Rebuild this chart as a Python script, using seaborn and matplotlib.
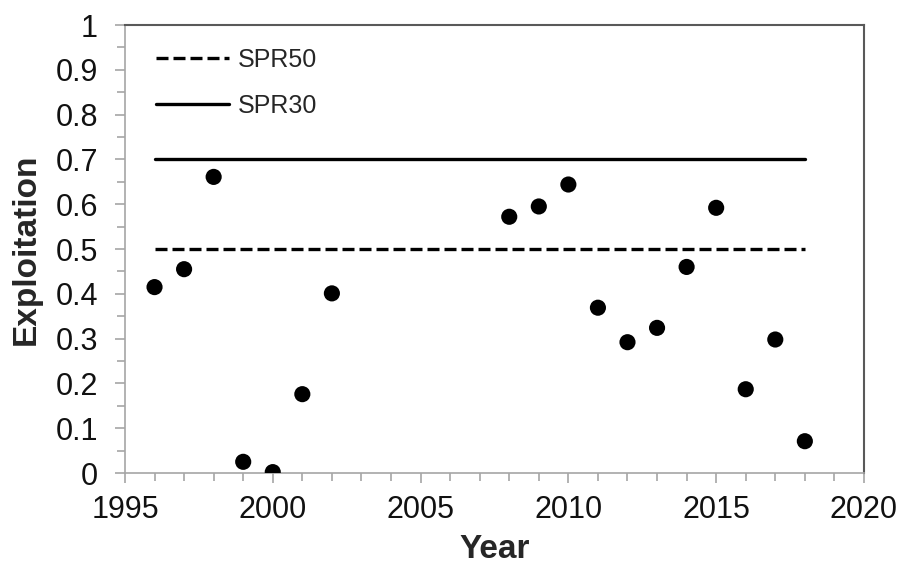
import matplotlib
matplotlib.use("Agg")
import matplotlib.pyplot as plt
from matplotlib.ticker import MultipleLocator
import seaborn as sns
import pandas as pd

# Annual exploitation estimates
years = [1996, 1997, 1998, 1999, 2000, 2001, 2002,
         2008, 2009, 2010, 2011, 2012, 2013, 2014, 2015, 2016, 2017, 2018]
exploitation = [0.415, 0.455, 0.661, 0.025, 0.002, 0.176, 0.401,
                0.572, 0.595, 0.644, 0.369, 0.292, 0.324, 0.460, 0.592, 0.187, 0.298, 0.071]

# Reference points (spawning potential ratio targets)
ref_names = ["SPR50", "SPR30"]
ref_values = [0.5, 0.7]
ref_span = [1996, 2018]

sns.set_theme(style="white")
plt.rcParams["font.family"] = ["Liberation Sans", "DejaVu Sans"]

pts = pd.DataFrame({"Year": years, "Exploitation": exploitation})
refs = pd.DataFrame({
    "Year": ref_span * len(ref_names),
    "Exploitation": [v for v in ref_values for _ in ref_span],
    "Reference": [n for n in ref_names for _ in ref_span],
})

fig = plt.figure(figsize=(9.01, 5.69), dpi=100)
ax = fig.add_axes([0.1387, 0.1687, 0.9589 - 0.1387, 0.956 - 0.1687])

sns.lineplot(data=refs, x="Year", y="Exploitation", style="Reference",
             style_order=ref_names, dashes={"SPR50": (3.6, 1.5), "SPR30": ""},
             color="black", linewidth=2.4, ax=ax)
sns.scatterplot(data=pts, x="Year", y="Exploitation", color="black",
                s=135, edgecolor="none", ax=ax, zorder=3, legend=False)

ax.set_xlim(1995, 2020)
ax.set_ylim(0, 1)
ax.xaxis.set_major_locator(MultipleLocator(5))
ax.xaxis.set_minor_locator(MultipleLocator(1))
ax.yaxis.set_minor_locator(MultipleLocator(0.05))
ax.set_yticks([i / 10 for i in range(11)])
ax.set_yticklabels(["0"] + [f"{i/10:g}" for i in range(1, 11)])

tick_col = "#a6a6a6"
for side in ["left", "bottom"]:
    ax.spines[side].set_color(tick_col)
    ax.spines[side].set_linewidth(1.2)
for side in ["top", "right"]:
    ax.spines[side].set_color("#595959")
    ax.spines[side].set_linewidth(1.5)

ax.tick_params(axis="both", which="both", direction="out", color=tick_col,
               labelsize=22, labelcolor="#111111", width=1.2)
ax.tick_params(axis="both", which="major", length=7.5)
ax.tick_params(axis="both", which="minor", length=5.5)
ax.tick_params(axis="x", which="major", pad=8)
ax.tick_params(axis="y", which="major", pad=12)
ax.tick_params(bottom=True, left=True, which="both")

ax.set_xlabel("Year", fontsize=24, fontweight="bold", labelpad=7)
ax.set_ylabel("Exploitation", fontsize=24, fontweight="bold", labelpad=10)

leg = ax.legend(loc="upper left", bbox_to_anchor=(0.012, 1.0), frameon=False,
                fontsize=18, handlelength=2.9, handletextpad=0.35,
                labelspacing=0.9, title=None)

fig.savefig("out.png", dpi=100, facecolor="white")
